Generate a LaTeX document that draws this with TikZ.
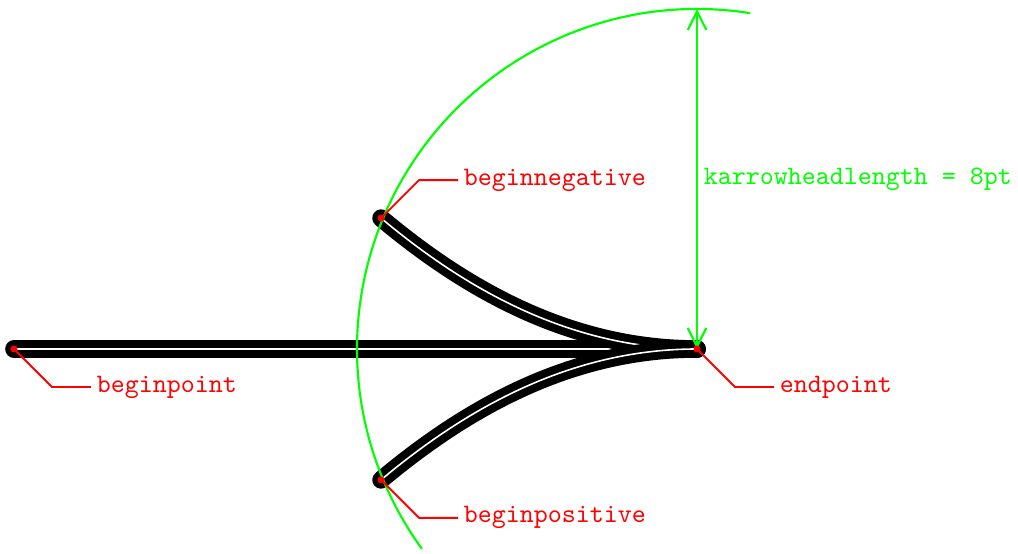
\documentclass[tikz,border=0pt]{standalone}
\usetikzlibrary{arrows.meta, calc}
\definecolor{cPoint}{HTML}{FF0000}
\definecolor{cGuide}{HTML}{00FF00}

\begin{document}
\begin{tikzpicture}[
    x=0.375pt, y=0.375pt, font=\ttfamily,
    stroke/.style={line width=3pt, double=white, double distance=0.6pt,
                   line cap=round},
    guide/.style={cGuide, line width=0.8pt},
    dim/.style={guide, {Straight Barb[length=7pt, width=7pt]}-{Straight Barb[length=7pt, width=7pt]}},
    lead/.style={cPoint, line width=0.7pt},
    lbl/.style={text=cPoint, inner sep=2pt, anchor=west},
]
\useasboundingbox (-697,-205) rectangle (321,349);

% ===================== Puntos =====================
\coordinate (endpoint) at (0,0);
\coordinate (beginpoint) at (-683,0);
\coordinate (beginnegative) at (157.5:342);
\coordinate (beginpositive) at (202.5:342);
\coordinate (top) at (0,340);

% ===================== Trazos =====================
\draw[stroke] (beginpoint) -- (endpoint);
\draw[stroke] (beginnegative) to[out=-40, in=180, looseness=0.9] (endpoint);
\draw[stroke] (beginpositive) to[out=40, in=180, looseness=0.9] (endpoint);

% ===================== Longitud de la punta =====================
\draw[guide] (endpoint) ++(81:340) arc[start angle=81, end angle=216, radius=340];
\draw[dim] (endpoint) -- (top);
\node[text=cGuide, inner sep=2pt, anchor=west] (lenlbl) at (1,170)
      {karrowheadlength = 8pt};

% ===================== Etiquetas =====================
\foreach \p/\dy in {beginpoint/-38, endpoint/-38, beginnegative/38, beginpositive/-38} {
    \node[lbl] (l\p) at ($(\p)+(77,\dy)$) {\p};
    \draw[lead] (\p) -- ++(38,\dy) -- (l\p.west);
    \fill[cPoint] (\p) circle[radius=3.5];
}

\end{tikzpicture}
\end{document}
